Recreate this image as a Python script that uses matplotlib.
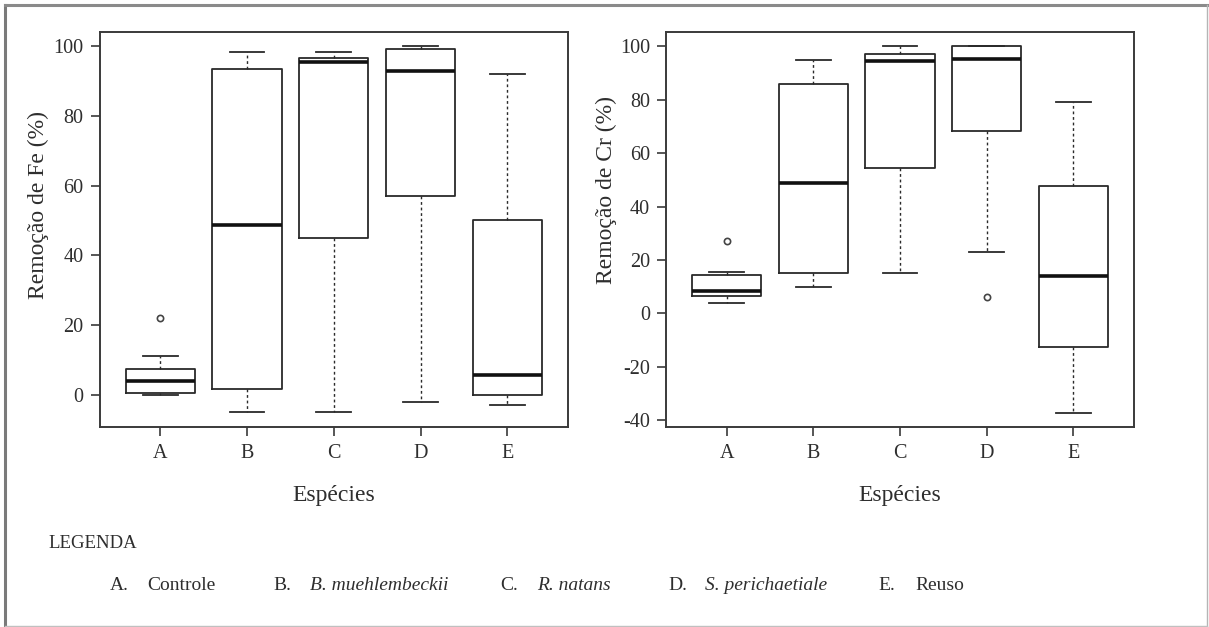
import matplotlib
matplotlib.use('Agg')
import matplotlib.pyplot as plt
from matplotlib.lines import Line2D

plt.rcParams['font.family'] = ['Liberation Serif', 'DejaVu Serif']
plt.rcParams['axes.unicode_minus'] = False

especies = ['A', 'B', 'C', 'D', 'E']

# Remoção de Fe (%)
fe_whislo = [0.0, -5.0, -5.0, -2.0, -3.0]
fe_q1 = [0.5, 1.5, 45.0, 57.0, 0.0]
fe_med = [4.0, 48.8, 95.4, 92.9, 5.5]
fe_q3 = [7.3, 93.5, 96.7, 99.1, 50.2]
fe_whishi = [11.2, 98.4, 98.4, 100.0, 92.1]
fe_fliers = [[22.0], [], [], [], []]

# Remoção de Cr (%)
cr_whislo = [4.0, 10.0, 15.0, 23.0, -37.2]
cr_q1 = [6.3, 15.0, 54.6, 68.4, -12.8]
cr_med = [8.4, 48.8, 94.6, 95.2, 14.1]
cr_q3 = [14.4, 86.0, 97.2, 100.0, 47.8]
cr_whishi = [15.6, 94.8, 100.0, 100.0, 79.2]
cr_fliers = [[26.9], [], [], [6.0], []]

legenda_letras = ['A.', 'B.', 'C.', 'D.', 'E.']
legenda_nomes = ['Controle', 'B. muehlembeckii', 'R. natans', 'S. perichaetiale', 'Reuso']
legenda_italico = [False, True, True, True, False]


def make_stats(whislo, q1, med, q3, whishi, fliers):
    stats = []
    for i in range(len(med)):
        stats.append({'whislo': whislo[i], 'q1': q1[i], 'med': med[i],
                      'q3': q3[i], 'whishi': whishi[i], 'fliers': fliers[i]})
    return stats


def draw_box(ax, stats, ylim, yticks):
    cor = '#2a2a2a'
    ax.bxp(stats, positions=range(1, 6), widths=0.8, showfliers=True,
           boxprops=dict(color=cor, linewidth=1.3),
           medianprops=dict(color='#111111', linewidth=2.6),
           whiskerprops=dict(color=cor, linewidth=1.0, linestyle=(0, (2, 2))),
           capprops=dict(color=cor, linewidth=1.3),
           capwidths=0.4,
           flierprops=dict(marker='o', markersize=4.5, markerfacecolor='none',
                           markeredgecolor='#444444', markeredgewidth=1.2))
    ax.set_xlim(0.3, 5.7)
    ax.set_ylim(*ylim)
    ax.set_yticks(yticks)
    ax.set_xticks(range(1, 6))
    ax.set_xticklabels(especies)
    for s in ax.spines.values():
        s.set_color('#3a3a3a')
        s.set_linewidth(1.4)
    ax.tick_params(axis='both', length=6.5, width=1.2, color='#3a3a3a',
                   labelsize=14.5, labelcolor='#2e2e2e')
    ax.tick_params(axis='y', pad=5)
    ax.tick_params(axis='x', pad=6)


W, H = 1209, 627
fig = plt.figure(figsize=(W / 100, H / 100), dpi=100)

ax1 = fig.add_axes([99.5 / W, 1 - 426.7 / H, 468.5 / W, 395 / H])
ax2 = fig.add_axes([666 / W, 1 - 426.7 / H, 468 / W, 395 / H])

draw_box(ax1, make_stats(fe_whislo, fe_q1, fe_med, fe_q3, fe_whishi, fe_fliers),
         (-9.2, 104.2), [0, 20, 40, 60, 80, 100])
draw_box(ax2, make_stats(cr_whislo, cr_q1, cr_med, cr_q3, cr_whishi, cr_fliers),
         (-42.5, 105.5), [-40, -20, 0, 20, 40, 60, 80, 100])

# rótulos dos eixos
fig.text(38 / W, 1 - 205 / H, 'Remoção de Fe (%)', rotation=90, fontsize=17,
         ha='center', va='center', color='#2e2e2e')
fig.text(606 / W, 1 - 190 / H, 'Remoção de Cr (%)', rotation=90, fontsize=17,
         ha='center', va='center', color='#2e2e2e')
fig.text(334 / W, 1 - 496 / H, 'Espécies', fontsize=17, ha='center', va='center',
         color='#2e2e2e')
fig.text(900 / W, 1 - 496 / H, 'Espécies', fontsize=17, ha='center', va='center',
         color='#2e2e2e')

# legenda
fig.text(48 / W, 1 - 543 / H, 'LEGENDA', fontsize=13.5, ha='left', va='center',
         color='#2e2e2e')
letra_x = [110, 273, 500, 668, 878]
nome_x = [147, 310, 537, 705, 915]
for i in range(len(legenda_letras)):
    fig.text(letra_x[i] / W, 1 - 585 / H, legenda_letras[i], fontsize=14,
             ha='left', va='center', color='#2e2e2e')
    fig.text(nome_x[i] / W, 1 - 585 / H, legenda_nomes[i], fontsize=14,
             ha='left', va='center', color='#2e2e2e',
             style='italic' if legenda_italico[i] else 'normal')

# moldura da figura
def px_line(x0, y0, x1, y1, cor, lw):
    fig.add_artist(Line2D([x0 / W, x1 / W], [1 - y0 / H, 1 - y1 / H],
                          transform=fig.transFigure, color=cor, linewidth=lw))

px_line(5, 5, 5, 626, '#7a7a7a', 2.2)
px_line(5, 5, 1207, 5, '#8a8a8a', 2.2)
px_line(1207, 5, 1207, 626, '#b5b5b5', 1.0)
px_line(5, 626, 1207, 626, '#c0c0c0', 1.0)

fig.savefig('out.png', dpi=100)
